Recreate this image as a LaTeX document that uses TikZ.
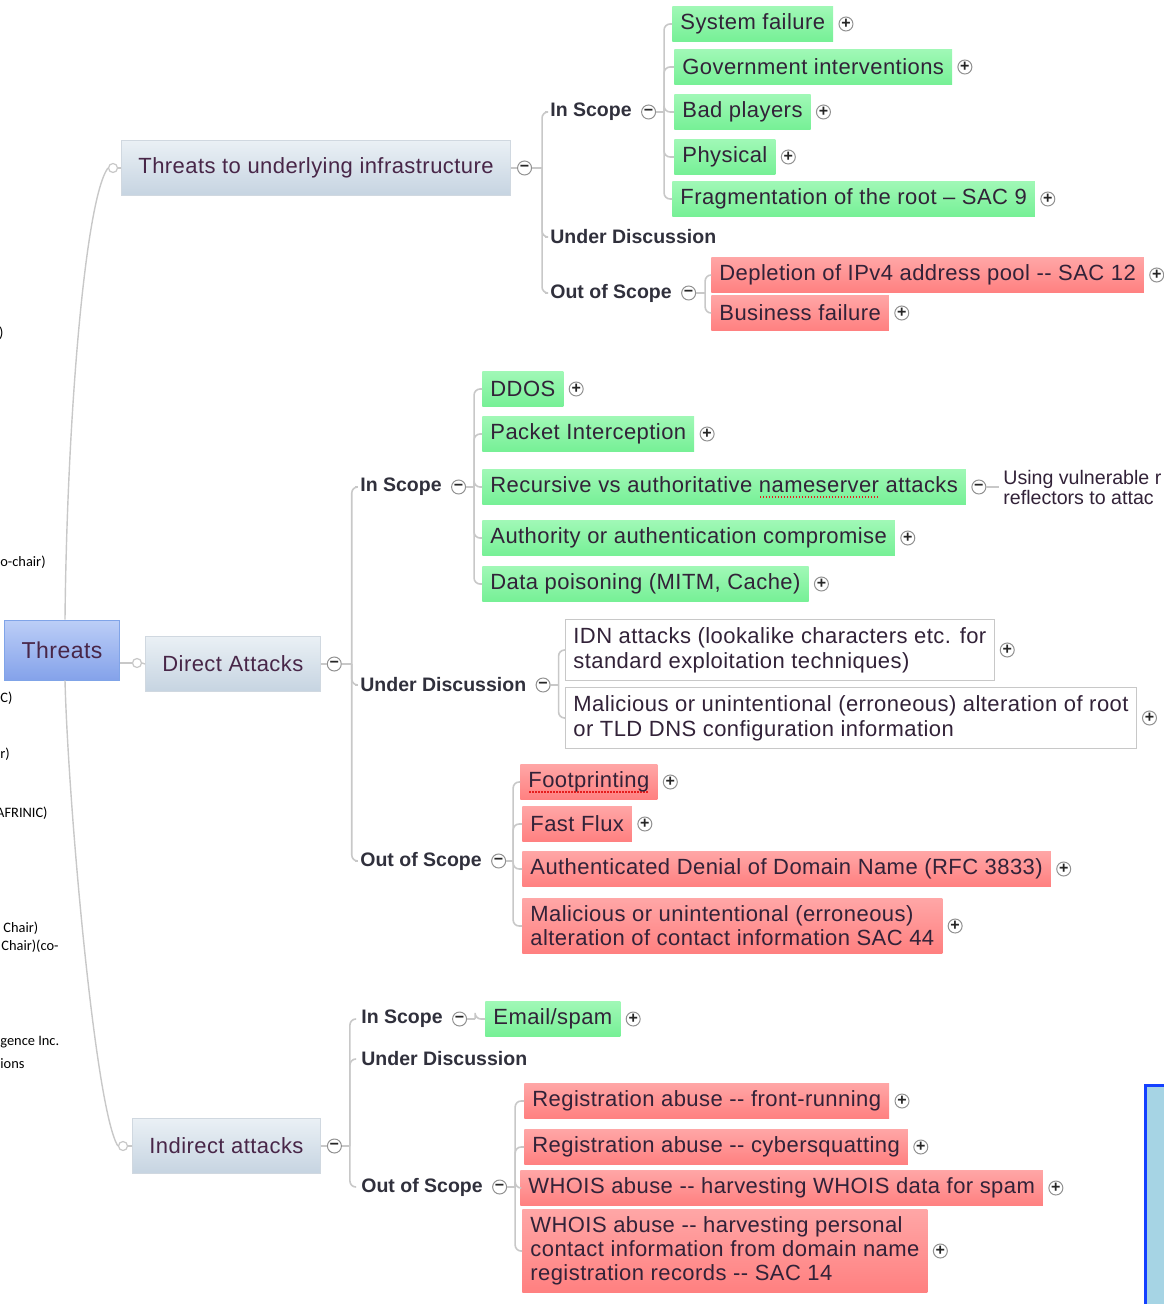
\documentclass[tikz,border=0pt]{standalone}
\usepackage{fontspec}
\setmainfont{Liberation Sans}
\newfontfamily\boxfont{Liberation Sans}[LetterSpace=2]
\newfontfamily\fragfont{Carlito}
\usetikzlibrary{positioning}

\definecolor{ink}{RGB}{50,34,56}
\definecolor{topicink}{RGB}{72,38,72}
\definecolor{scopeink}{RGB}{48,48,60}
\definecolor{topictop}{RGB}{234,240,245}
\definecolor{topicbot}{RGB}{198,212,225}
\definecolor{topicline}{RGB}{208,216,224}
\definecolor{roottop}{RGB}{188,206,247}
\definecolor{rootbot}{RGB}{132,162,234}
\definecolor{rootline}{RGB}{128,164,232}
\definecolor{intop}{RGB}{160,248,182}
\definecolor{inbot}{RGB}{118,240,150}
\definecolor{outtop}{RGB}{255,166,166}
\definecolor{outbot}{RGB}{255,128,128}
\definecolor{noteline}{RGB}{200,200,200}
\definecolor{branchgray}{RGB}{200,200,200}
\definecolor{togglegray}{RGB}{145,145,145}
\definecolor{spellred}{RGB}{230,30,30}
\definecolor{panelfill}{RGB}{166,212,228}
\definecolor{panelline}{RGB}{20,64,255}

% red dotted spell-check underline
\newcommand{\misspelt}[1]{\setbox0=\hbox{#1}\rlap{\raisebox{-2.6pt}{\color{spellred}\hbox to \wd0{\leaders\hbox to 1.5pt{\hss\rule{0.8pt}{0.8pt}\hss}\hfill}}}#1}

\tikzset{
  rootbox/.style={draw=rootline, top color=roottop, bottom color=rootbot,
    minimum width=57.5pt, minimum height=30pt, text=topicink,
    font=\boxfont\fontsize{11.5}{13}\selectfont},
  topic/.style={draw=topicline, top color=topictop, bottom color=topicbot,
    anchor=west, inner xsep=8.5pt, minimum height=27.5pt, text=topicink,
    font=\boxfont\fontsize{11}{13}\selectfont},
  scopelabel/.style={anchor=west, inner xsep=2.5pt, inner ysep=2pt, text=scopeink,
    font=\bfseries\fontsize{9.75}{12}\selectfont},
  leaf/.style={anchor=west, align=left, inner xsep=4pt, inner ysep=3.5pt,
    minimum height=17.5pt, text=ink, font=\boxfont\fontsize{11}{12}\selectfont},
  inleaf/.style={leaf, top color=intop, bottom color=inbot},
  outleaf/.style={leaf, top color=outtop, bottom color=outbot},
  noteleaf/.style={leaf, draw=noteline, fill=white, inner ysep=4pt,
    font=\boxfont\fontsize{11}{12.5}\selectfont},
  remark/.style={anchor=west, align=left, inner sep=2pt, text=ink,
    font=\fontsize{9.8}{10}\selectfont},
  toggle/.style={circle, draw=togglegray, fill=white, minimum size=7pt,
    inner sep=0pt, line width=0.5pt, text=black!85,
    font=\bfseries\fontsize{8}{8}\selectfont},
  knob/.style={circle, draw=branchgray, fill=white, minimum size=4.5pt,
    inner sep=0pt, line width=0.6pt},
  branch/.style={draw=branchgray, line width=0.8pt, rounded corners=3pt},
  trunk/.style={draw=branchgray, line width=0.7pt},
  frag/.style={inner sep=0pt, text=black, font=\fragfont\fontsize{7.2}{8.6}\selectfont},
}

\begin{document}
\begin{tikzpicture}[x=0.5pt, y=-0.5pt, >=stealth]
\useasboundingbox (0,0) rectangle (1163,1304);

% cut-off notes at the left margin
\node[frag, anchor=east] (fragA) at (4,333) {)};
\node[frag, anchor=west] (fragB) at (0,562) {o-chair)};
\node[frag, anchor=west] (fragC) at (0,698) {C)};
\node[frag, anchor=west] (fragD) at (0,754) {r)};
\node[frag, anchor=east] (fragE) at (48,813) {AFRINIC)};
\node[frag, anchor=west] (fragF) at (3,928) {Chair)};
\node[frag, anchor=west] (fragG) at (1,946) {Chair)(co-};
\node[frag, anchor=west] (fragH) at (0,1042) {gence Inc.};
\node[frag, anchor=west] (fragI) at (0,1064) {ions};

% root
\node[rootbox] (root) at (62,650) {Threats};

% main topics
\node[knob] (kinfra) at (113,168) {};
\node[knob] (kdirect) at (137,663) {};
\node[knob] (kindirect) at (123,1146) {};
\node[topic] (infra) at (121,168) {Threats to underlying infrastructure};
\node[topic] (direct) at (145,664) {Direct Attacks};
\node[topic] (indirect) at (132,1146) {Indirect attacks};
\node[toggle, right=3pt of infra] (infraT) {−};
\node[toggle, right=3pt of direct] (directT) {−};
\node[toggle, right=3pt of indirect] (indirectT) {−};

\draw[trunk] ([xshift=1.5pt]root.north) .. controls (67,420) and (85,200) .. (kinfra.west);
\draw[trunk] ([xshift=1.5pt]root.south) .. controls (68,800) and (95,1110) .. (kindirect.west);
\draw[trunk] (root.east |- kdirect) -- (kdirect.west);
\draw[trunk] (kinfra.east) -- (infra.west);
\draw[trunk] (kdirect.east) -- (direct.west);
\draw[trunk] (kindirect.east) -- (indirect.west);
\draw[branch] (infra.east) -- (infraT.west);
\draw[branch] (direct.east) -- (directT.west);
\draw[branch] (indirect.east) -- (indirectT.west);

% --- threats to underlying infrastructure
\node[scopelabel] (g1in) at (545,112) {In Scope};
\node[scopelabel] (g1ud) at (545,237) {Under Discussion};
\node[scopelabel] (g1out) at (545,293) {Out of Scope};
\node[toggle, right=2pt of g1in] (g1inT) {−};
\node[toggle, right=2pt of g1out] (g1outT) {−};

\node[inleaf] (sysfail) at (672,24) {System failure};
\node[inleaf] (govint) at (674,67) {Government interventions};
\node[inleaf] (badplay) at (674,112) {Bad players};
\node[inleaf] (physical) at (674,157) {Physical};
\node[inleaf] (fragroot) at (672,199) {Fragmentation of the root – SAC 9};
\node[outleaf] (ipvfour) at (711,275) {Depletion of IPv4 address pool -{}- SAC 12};
\node[outleaf] (bizfail) at (711,313) {Business failure};
\foreach \n in {sysfail,govint,badplay,physical,fragroot,ipvfour,bizfail}
  \node[toggle, right=2.5pt of \n] (\n T) {+};

\draw[branch] (infraT.east) -- ++(10,0) coordinate (j1);
\foreach \n in {g1in,g1ud,g1out} \draw[branch] (j1) |- (\n.west);
\draw[branch] (g1inT.east) -- ++(8,0) coordinate (j11);
\foreach \n in {sysfail,govint,badplay,physical,fragroot} \draw[branch] (j11) |- (\n.west);
\draw[branch] (g1outT.east) -- ++(9,0) coordinate (j13);
\foreach \n in {ipvfour,bizfail} \draw[branch] (j13) |- (\n.west);

% --- direct attacks
\node[scopelabel] (g2in) at (355,487) {In Scope};
\node[scopelabel] (g2ud) at (355,685) {Under Discussion};
\node[scopelabel] (g2out) at (355,861) {Out of Scope};
\node[toggle, right=2pt of g2in] (g2inT) {−};
\node[toggle, right=2pt of g2ud] (g2udT) {−};
\node[toggle, right=2pt of g2out] (g2outT) {−};

\node[inleaf] (ddos) at (482,389) {DDOS};
\node[inleaf] (packet) at (482,434) {Packet Interception};
\node[inleaf] (recursive) at (482,487) {Recursive vs authoritative \misspelt{nameserver} attacks};
\node[inleaf] (authority) at (482,538) {Authority or authentication compromise};
\node[inleaf] (poison) at (482,584) {Data poisoning (MITM, Cache)};
\node[noteleaf] (idn) at (565,650) {IDN attacks (lookalike characters etc. for\\standard exploitation techniques)};
\node[noteleaf] (rootconf) at (565,718) {Malicious or unintentional (erroneous) alteration of root\\or TLD DNS configuration information};
\node[outleaf] (footprint) at (520,782) {\misspelt{Footprinting}};
\node[outleaf] (fastflux) at (522,824) {Fast Flux};
\node[outleaf] (denial) at (522,869) {Authenticated Denial of Domain Name (RFC 3833)};
\node[outleaf] (contact) at (522,926) {Malicious or unintentional (erroneous)\\alteration of contact information SAC 44};
\foreach \n in {ddos,packet,authority,poison,idn,rootconf,footprint,fastflux,denial,contact}
  \node[toggle, right=2.5pt of \n] (\n T) {+};
\node[toggle, right=2.5pt of recursive] (recursiveT) {−};
\node[remark] (reflect) at (999,487) {Using vulnerable r\\reflectors to attac};

\draw[branch] (directT.east) -- ++(10,0) coordinate (j2);
\foreach \n in {g2in,g2ud,g2out} \draw[branch] (j2) |- (\n.west);
\draw[branch] (g2inT.east) -- ++(8,0) coordinate (j21);
\foreach \n in {ddos,packet,recursive,authority,poison} \draw[branch] (j21) |- (\n.west);
\draw[branch] (g2udT.east) -- ++(8,0) coordinate (j22);
\foreach \n in {idn,rootconf} \draw[branch] (j22) |- (\n.west);
\draw[branch] (g2outT.east) -- ++(7,0) coordinate (j23);
\foreach \n in {footprint,fastflux,denial,contact} \draw[branch] (j23) |- (\n.west);
\draw[branch] (recursiveT.east) -- (reflect.west);

% --- indirect attacks
\node[scopelabel] (g3in) at (356,1019) {In Scope};
\node[scopelabel] (g3ud) at (356,1059) {Under Discussion};
\node[scopelabel] (g3out) at (356,1187) {Out of Scope};
\node[toggle, right=2pt of g3in] (g3inT) {−};
\node[toggle, right=2pt of g3out] (g3outT) {−};

\node[inleaf] (email) at (485,1019) {Email/spam};
\node[outleaf] (frontrun) at (524,1101) {Registration abuse -{}- front-running};
\node[outleaf] (squat) at (524,1147) {Registration abuse -{}- cybersquatting};
\node[outleaf] (whoisspam) at (520,1188) {WHOIS abuse -{}- harvesting WHOIS data for spam};
\node[outleaf] (whoisdata) at (522,1251) {WHOIS abuse -{}- harvesting personal\\contact information from domain name\\registration records -{}- SAC 14};
\foreach \n in {email,frontrun,squat,whoisspam,whoisdata}
  \node[toggle, right=2.5pt of \n] (\n T) {+};

\draw[branch] (indirectT.east) -- ++(8,0) coordinate (j3);
\foreach \n in {g3in,g3ud,g3out} \draw[branch] (j3) |- (\n.west);
\draw[branch] (g3inT.east) -- ++(8,0) coordinate (j31);
\draw[branch] (j31) |- (email.west);
\draw[branch] (g3outT.east) -- ++(8,0) coordinate (j33);
\foreach \n in {frontrun,squat,whoisspam,whoisdata} \draw[branch] (j33) |- (\n.west);

% cut-off panel at the lower right
\draw[draw=panelline, fill=panelfill, line width=1.5pt] (1145,1085) rectangle (1180,1315);

\end{tikzpicture}
\end{document}
